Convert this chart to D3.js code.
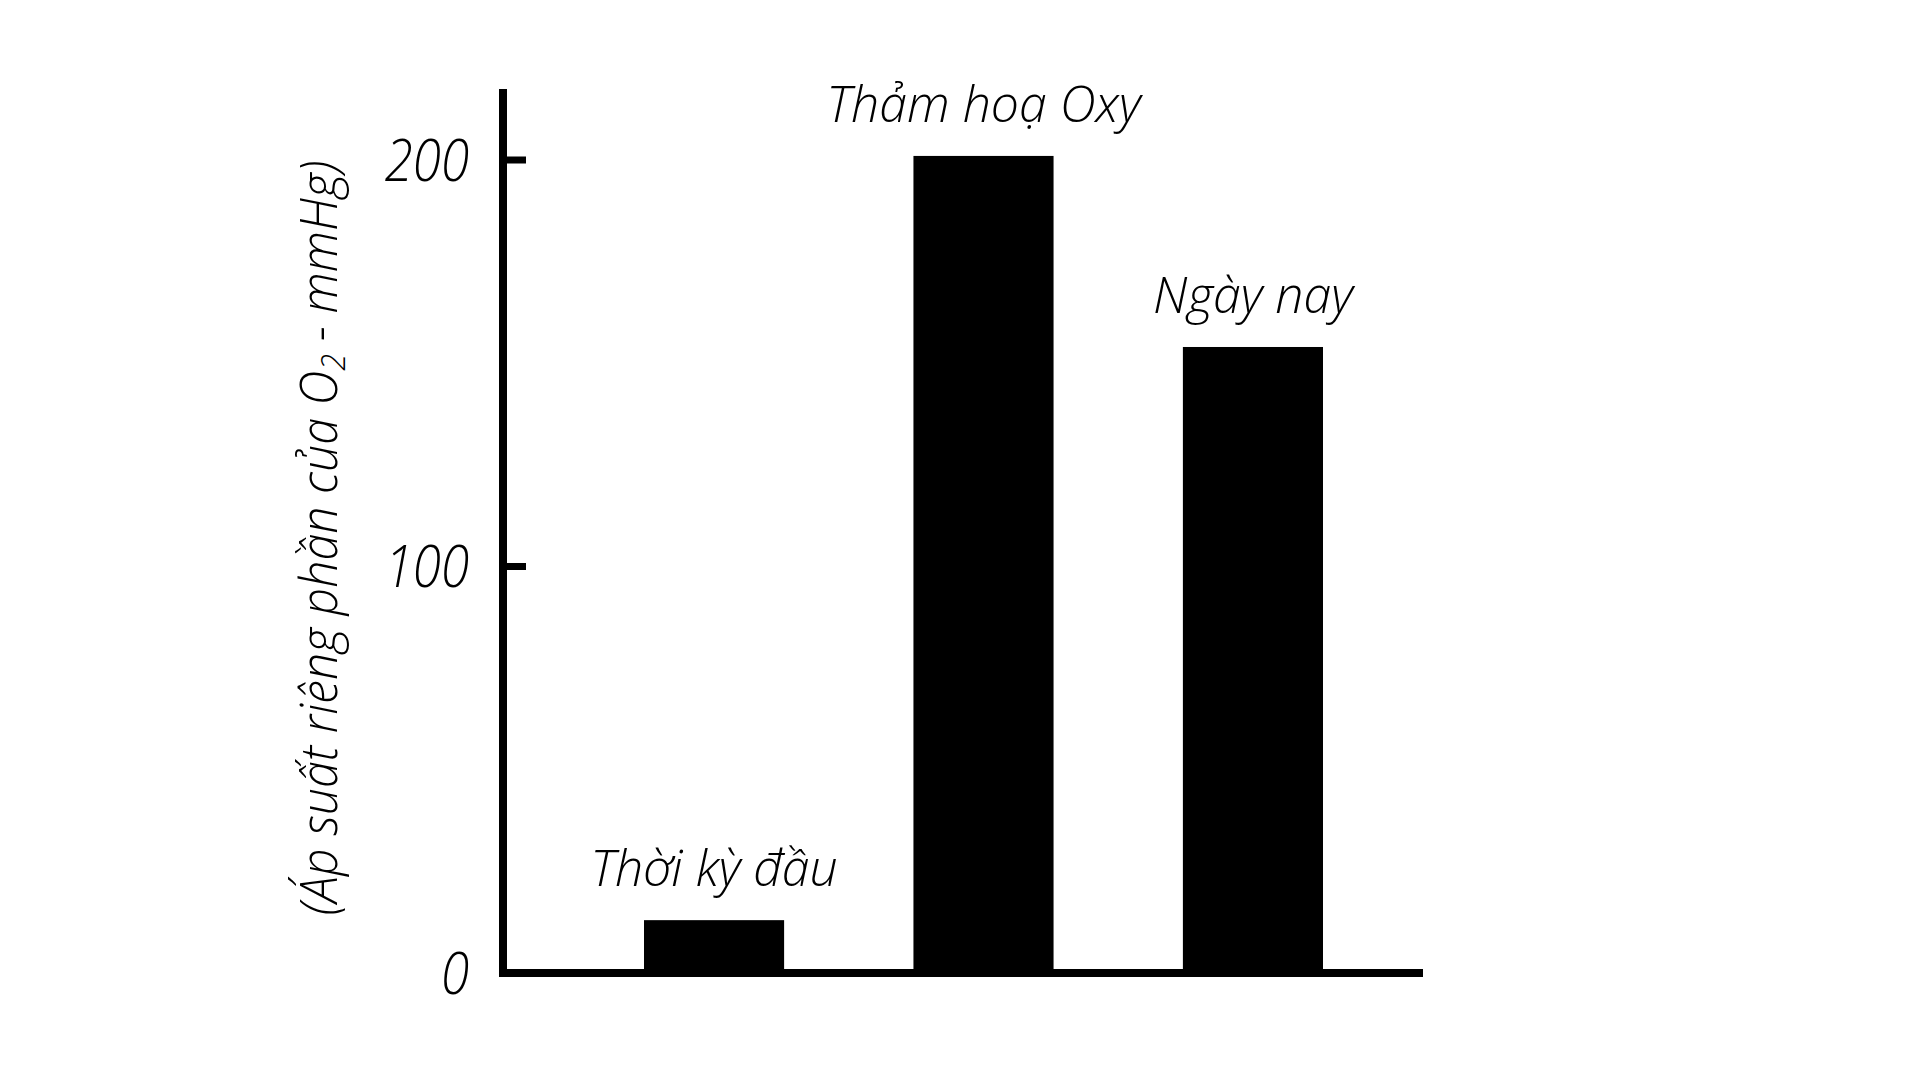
<!DOCTYPE html>
<html><head><meta charset="utf-8">
<script src="https://cdn.jsdelivr.net/npm/d3@7"></script>
<style>
html,body{margin:0;padding:0;background:#fff;}
text{font-family:"Open Sans",sans-serif;font-style:italic;font-weight:300;fill:#000;}
</style></head>
<body>
<script>
const categories = ["Thời kỳ đầu", "Thảm hoạ Oxy", "Ngày nay"];
const values = [13, 201, 154];
const tickValues = [0, 100, 200];
const tickLabels = ["0", "100", "200"];
const yTitle = ["(Áp suất riêng phần của O", "2", " - mmHg)"];

const W = 1920, H = 1080;
const svg = d3.select("body").append("svg").attr("width", W).attr("height", H);

const axisX = 503, axisY = 973, axisTop = 89, axisRightEnd = 1423;
const y = d3.scaleLinear().domain([0, 200]).range([axisY, 160]);
const x = d3.scaleBand().domain(categories).range([644, 1323]).paddingInner(0.48).paddingOuter(0);

// bars
svg.selectAll("rect.bar").data(values).join("rect")
  .attr("class", "bar")
  .attr("x", (d, i) => x(categories[i]))
  .attr("width", x.bandwidth())
  .attr("y", d => y(d))
  .attr("height", d => axisY - y(d))
  .attr("fill", "#000");

// bar labels
svg.selectAll("text.lab").data(values).join("text")
  .attr("class", "lab")
  .attr("x", (d, i) => x(categories[i]) + x.bandwidth() / 2)
  .attr("y", d => y(d) - 34)
  .attr("text-anchor", "middle")
  .attr("font-size", 50)
  .text((d, i) => categories[i]);

// axes
svg.append("line").attr("x1", axisX).attr("x2", axisX).attr("y1", axisTop).attr("y2", axisY + 4)
  .attr("stroke", "#000").attr("stroke-width", 8);
svg.append("line").attr("x1", axisX - 4).attr("x2", axisRightEnd).attr("y1", axisY).attr("y2", axisY)
  .attr("stroke", "#000").attr("stroke-width", 8);

// ticks
svg.selectAll("line.tick").data(tickValues.filter(v => v > 0)).join("line")
  .attr("class", "tick")
  .attr("x1", axisX).attr("x2", axisX + 23)
  .attr("y1", d => y(d)).attr("y2", d => y(d))
  .attr("stroke", "#000").attr("stroke-width", 7);

svg.selectAll("text.tl").data(tickValues).join("text")
  .attr("class", "tl")
  .attr("transform", d => `translate(${axisX - 34},${y(d)}) scale(0.88,1)`)
  .attr("dy", "0.36em")
  .attr("text-anchor", "end")
  .attr("font-size", 58)
  .text((d, i) => tickLabels[i]);

// y title
const t = svg.append("text")
  .attr("transform", "translate(337,538) rotate(-90) scale(0.93,1)")
  .attr("text-anchor", "middle")
  .attr("font-size", 52);
t.append("tspan").text(yTitle[0]);
t.append("tspan").attr("baseline-shift", "-25%").attr("font-size", 33).text(yTitle[1]);
t.append("tspan").text(yTitle[2]);
</script>
</body></html>
